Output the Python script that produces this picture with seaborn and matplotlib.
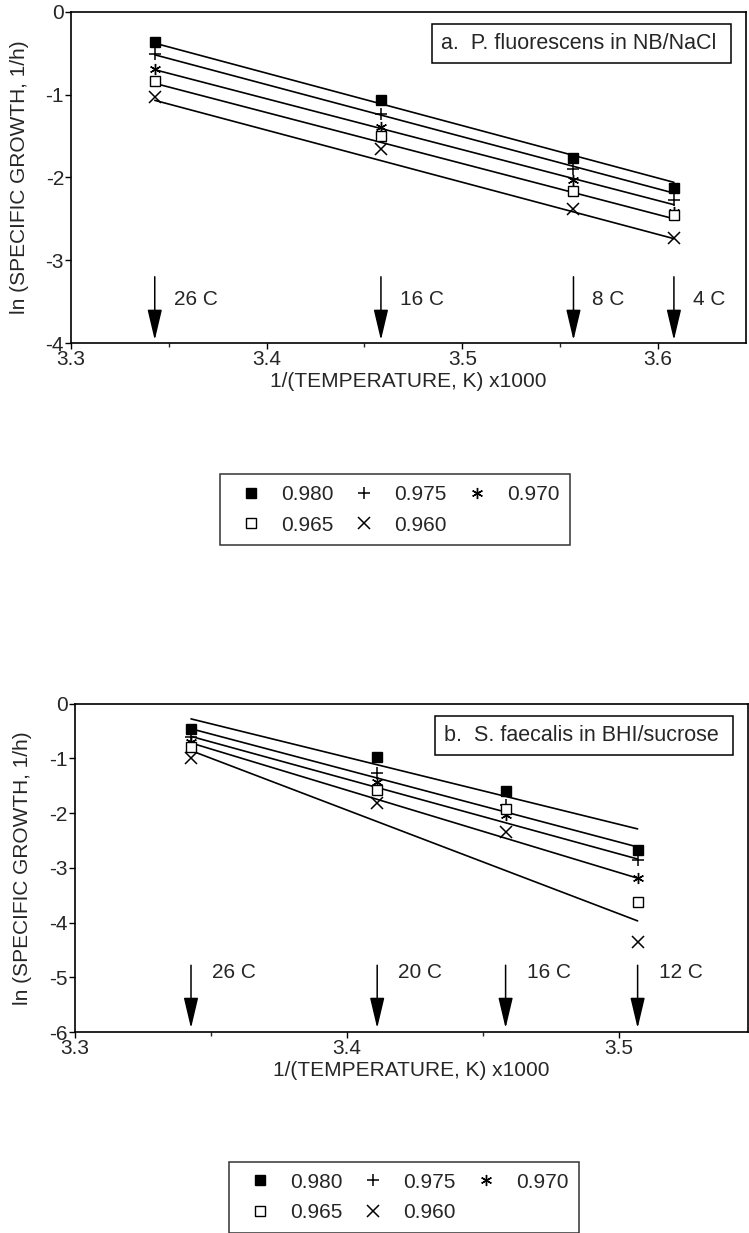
import numpy as np
import pandas as pd
import matplotlib
matplotlib.use('Agg')
import matplotlib.pyplot as plt
from matplotlib.lines import Line2D
from matplotlib.ticker import MultipleLocator
import seaborn as sns

sns.set_style('ticks')
plt.rcParams['font.family'] = ['Liberation Sans', 'DejaVu Sans']
plt.rcParams['axes.unicode_minus'] = False

aw_labels = ['0.980', '0.975', '0.970', '0.965', '0.960']

# panel a: P. fluorescens in NB/NaCl
temps_a = [26, 16, 8, 4]
a_980 = [-0.37, -1.06, -1.77, -2.13]
a_975 = [-0.51, -1.24, -1.90, -2.27]
a_970 = [-0.69, -1.39, -2.03, -2.42]
a_965 = [-0.84, -1.50, -2.17, -2.46]
a_960 = [-1.03, -1.66, -2.38, -2.73]
# fitted lines, value at warmest and coldest temperature
fit_a_first = [-0.38, -0.52, -0.70, -0.865, -1.07]
fit_a_last = [-2.06, -2.19, -2.33, -2.50, -2.74]

# panel b: S. faecalis in BHI/sucrose
temps_b = [26, 20, 16, 12]
b_980 = [-0.46, -0.98, -1.59, -2.68]
b_975 = [-0.61, -1.26, -1.86, -2.86]
b_970 = [-0.70, -1.43, -2.04, -3.19]
b_965 = [-0.80, -1.58, -1.92, -3.62]
b_960 = [-1.00, -1.82, -2.34, -4.35]
fit_b_first = [-0.28, -0.46, -0.60, -0.72, -0.86]
fit_b_last = [-2.29, -2.62, -2.84, -3.19, -3.97]

marker_kw = {
    '0.980': dict(marker='s', ms=7.5, mfc='black', mec='black'),
    '0.975': dict(marker='+', ms=9, mew=1.1, color='black'),
    '0.970': dict(marker=(6, 2, 0), ms=8, mew=1.0, color='black'),
    '0.965': dict(marker='s', ms=7.5, mfc='white', mec='black', mew=1.0),
    '0.960': dict(marker='x', ms=8, mew=1.1, color='black'),
}


def inv_temp(temps):
    return [1000.0 / (t + 273.15) for t in temps]


def draw_panel(ax, temps, series, fit_first, fit_last, xmax, ymin,
               arrow_top, arrow_tip, label_y, label_dx, title):
    x = inv_temp(temps)
    for lab, y0, y1 in zip(aw_labels, fit_first, fit_last):
        line = pd.DataFrame({'x': [x[0], x[-1]], 'y': [y0, y1]})
        sns.lineplot(data=line, x='x', y='y', color='black', lw=1.2,
                     ax=ax, legend=False)
    for lab, ys in zip(aw_labels, series):
        ax.plot(x, ys, linestyle='none', **marker_kw[lab])
    for xi, t in zip(x, temps):
        ax.annotate('', xy=(xi, arrow_tip), xytext=(xi, arrow_top),
                    arrowprops=dict(arrowstyle='-|>,head_length=1.9,head_width=0.45',
                                    color='black', lw=1.1, shrinkA=0, shrinkB=0,
                                    mutation_scale=10))
        ax.text(xi + label_dx, label_y, f'{t} C', fontsize=15,
                ha='left', va='center')
    ax.text(0.548, 0.903, title, transform=ax.transAxes, fontsize=15.5,
            ha='left', va='center',
            bbox=dict(boxstyle='square,pad=0.42', fc='white', ec='black', lw=1.1))
    ax.set_xlim(3.3, xmax)
    ax.set_ylim(ymin, 0)
    ax.xaxis.set_major_locator(MultipleLocator(0.1))
    ax.xaxis.set_minor_locator(MultipleLocator(0.05))
    ax.yaxis.set_major_locator(MultipleLocator(1))
    ax.set_xticklabels([f'{v:.1f}' for v in ax.get_xticks()])
    ax.set_yticklabels([f'{v:.0f}' for v in ax.get_yticks()])
    ax.tick_params(axis='both', which='major', direction='out', length=4,
                   width=1, labelsize=15, pad=1, color='black')
    ax.tick_params(axis='x', which='minor', direction='out', length=3, width=1)
    for sp in ax.spines.values():
        sp.set_visible(True)
        sp.set_color('black')
        sp.set_linewidth(1.2)
    ax.set_xlabel('1/(TEMPERATURE, K) x1000', fontsize=15, labelpad=2)
    ax.set_ylabel('ln (SPECIFIC GROWTH, 1/h)', fontsize=15, labelpad=12)


def add_legend(fig, cx, cy):
    # legend fills column by column, so reorder to read row by row
    order = ['0.980', '0.965', '0.975', '0.960', '0.970']
    handles = [Line2D([], [], linestyle='none', **marker_kw[lab]) for lab in order]
    leg = fig.legend(handles, order, loc='center', bbox_to_anchor=(cx, cy),
                     bbox_transform=fig.transFigure, ncol=3, fontsize=15,
                     frameon=True, fancybox=False, edgecolor='black',
                     handlelength=1.9, handletextpad=0.5, columnspacing=0.5,
                     borderpad=0.52, labelspacing=0.55, borderaxespad=0)
    leg.get_frame().set_linewidth(1.1)


fig = plt.figure(figsize=(7.49, 12.33), dpi=100)

ax_a = fig.add_axes([0.0948, 0.7218, 0.9012, 0.2687])
draw_panel(ax_a, temps_a, [a_980, a_975, a_970, a_965, a_960],
           fit_a_first, fit_a_last, 3.645, -4,
           -3.2, -3.965, -3.47, 0.0097, 'a.  P. fluorescens in NB/NaCl ')

ax_b = fig.add_axes([0.0995, 0.1630, 0.8992, 0.2664])
draw_panel(ax_b, temps_b, [b_980, b_975, b_970, b_965, b_960],
           fit_b_first, fit_b_last, 3.5475, -6,
           -4.78, -5.93, -4.92, 0.0077, 'b.  S. faecalis in BHI/sucrose ')

add_legend(fig, 0.528, 0.5865)
add_legend(fig, 0.540, 0.029)

fig.savefig('out.png', dpi=100)
